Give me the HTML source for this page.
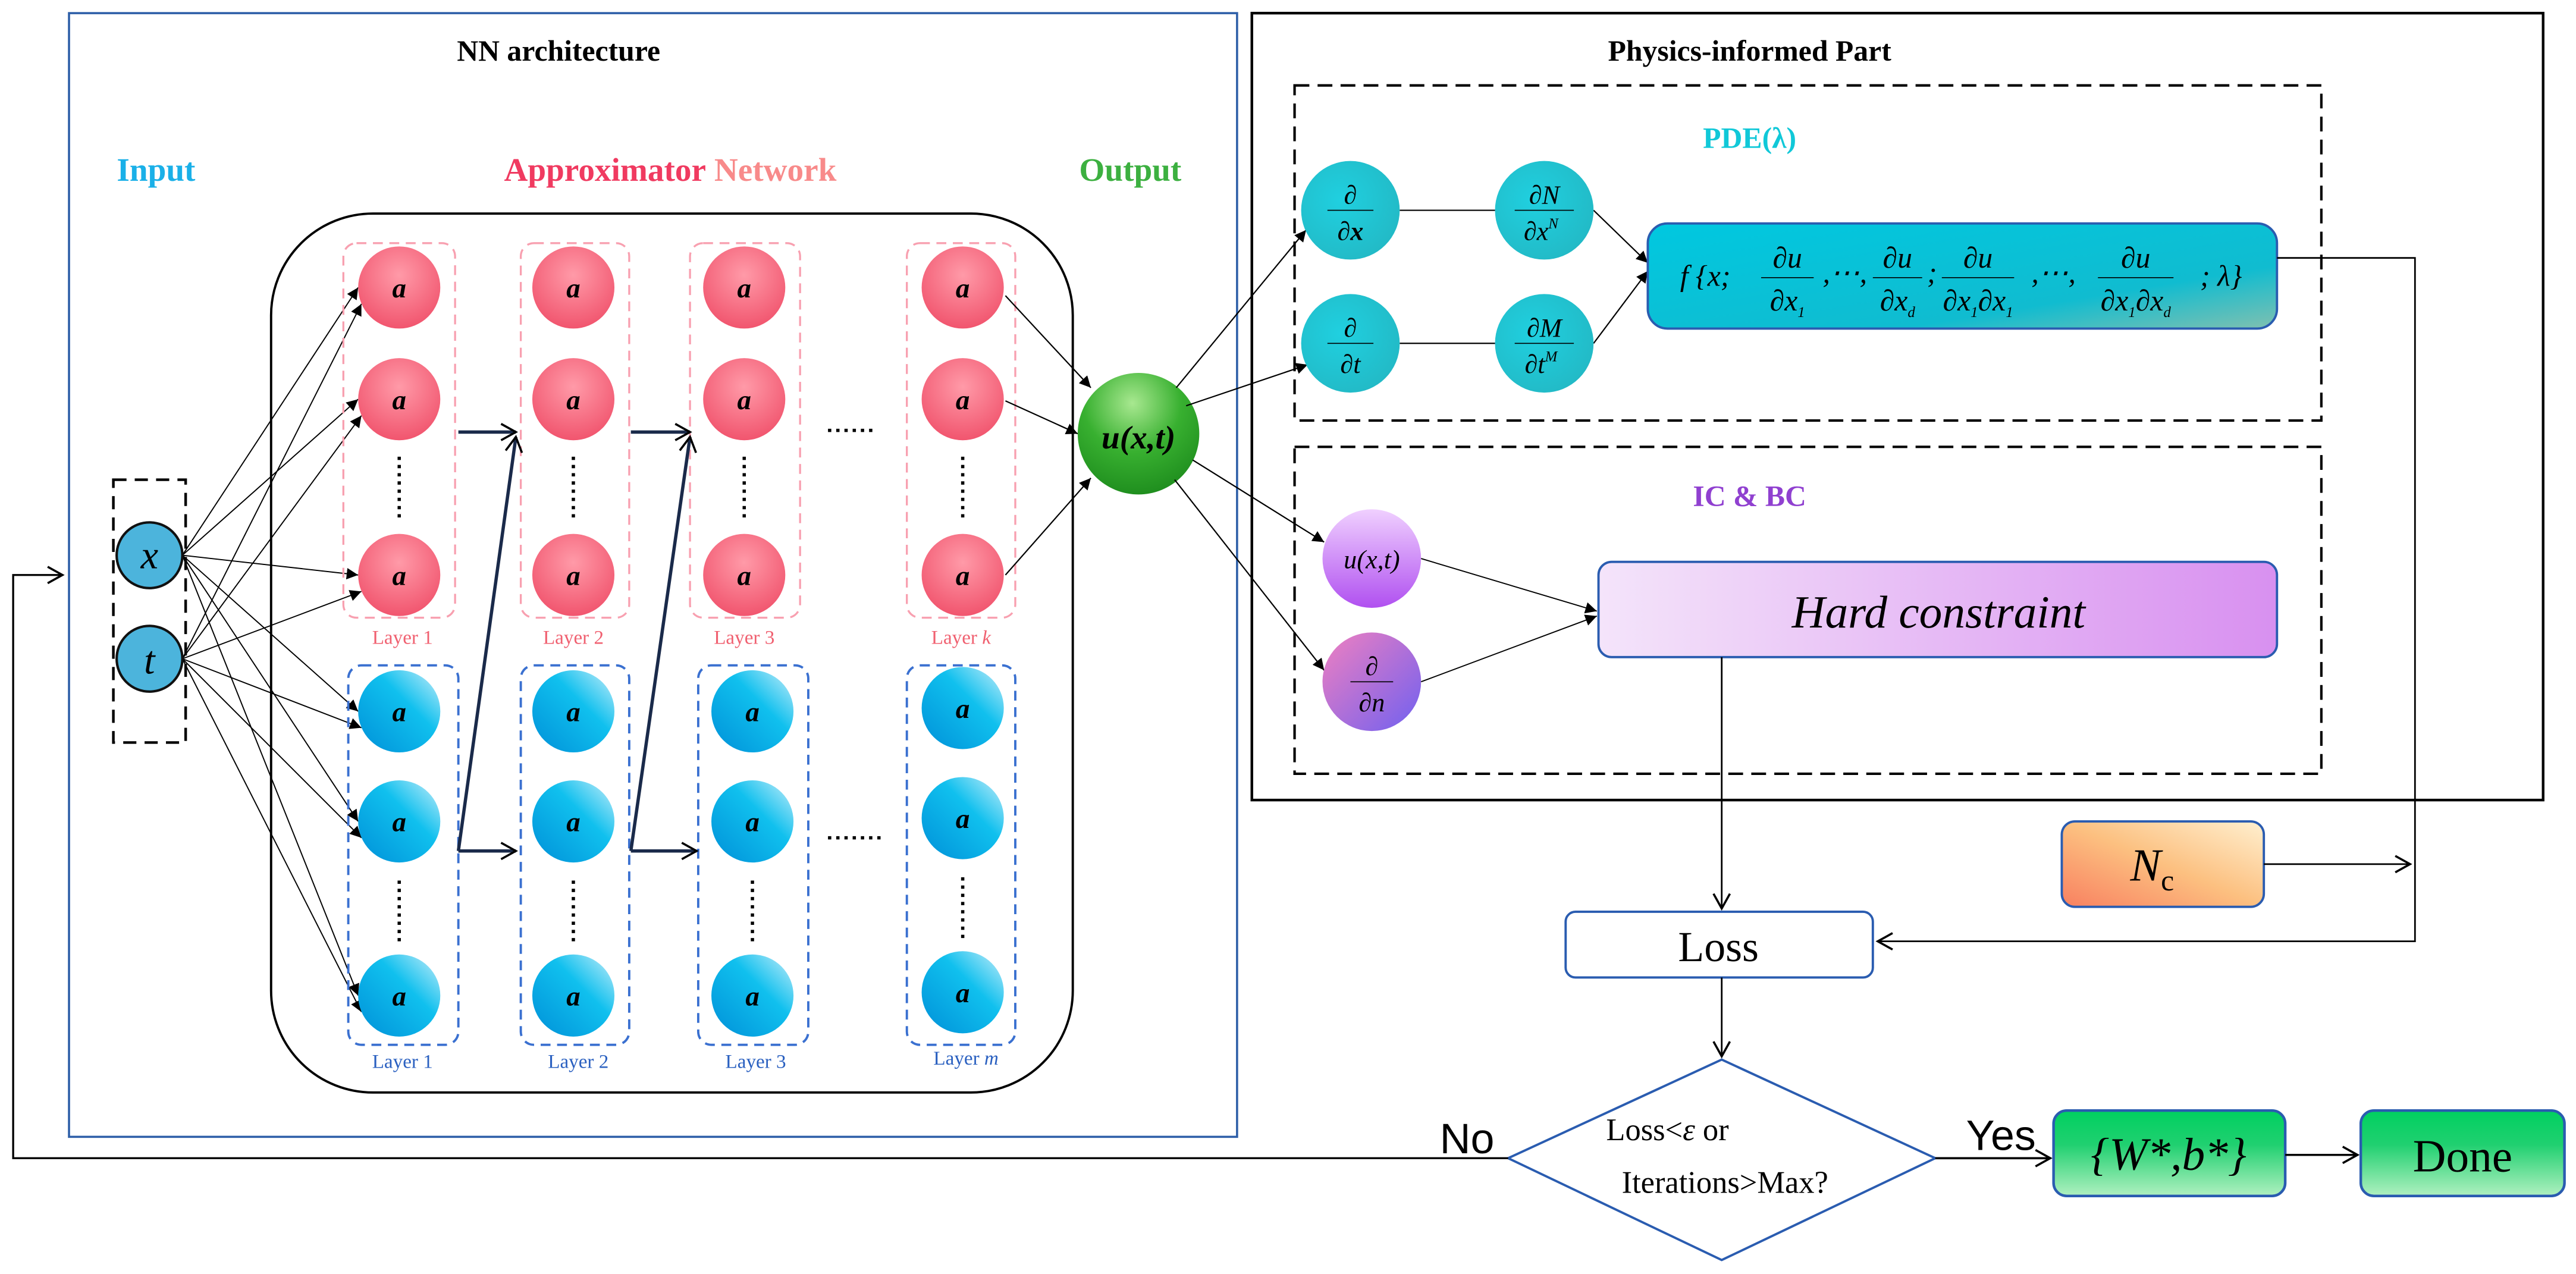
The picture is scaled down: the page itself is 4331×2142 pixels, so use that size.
<!DOCTYPE html>
<html><head><meta charset="utf-8"><style>html,body{margin:0;padding:0;background:#fff}svg{display:block}</style></head>
<body>
<svg width="4331" height="2142" viewBox="0 0 1568 775.5" xmlns="http://www.w3.org/2000/svg" font-family="'Liberation Serif',serif">
<defs>
<radialGradient id="pk" cx="0.5" cy="0.35" r="0.7"><stop offset="0" stop-color="#ff9aa8"/><stop offset="1" stop-color="#f0506a"/></radialGradient>
<linearGradient id="bl" x1="1" y1="0" x2="0" y2="1"><stop offset="0" stop-color="#c8eefa"/><stop offset="0.4" stop-color="#10c0ee"/><stop offset="1" stop-color="#0090d8"/></linearGradient>
<radialGradient id="tl" cx="0.4" cy="0.4" r="0.7"><stop offset="0" stop-color="#20d0e0"/><stop offset="1" stop-color="#22b8c4"/></radialGradient>
<radialGradient id="gr" cx="0.45" cy="0.25" r="0.8"><stop offset="0" stop-color="#a8e890"/><stop offset="0.5" stop-color="#38b030"/><stop offset="1" stop-color="#1c8a1c"/></radialGradient>
<linearGradient id="pu" x1="0" y1="0" x2="0" y2="1"><stop offset="0" stop-color="#f0d0ff"/><stop offset="1" stop-color="#b050f0"/></linearGradient>
<linearGradient id="pn" x1="0" y1="0" x2="1" y2="1"><stop offset="0" stop-color="#f080c0"/><stop offset="1" stop-color="#7060f0"/></linearGradient>
<linearGradient id="fb" x1="0" y1="0" x2="1" y2="1"><stop offset="0" stop-color="#00c8e0"/><stop offset="0.7" stop-color="#10bcd0"/><stop offset="1" stop-color="#80c0b0"/></linearGradient>
<linearGradient id="hc" x1="0" y1="0" x2="1" y2="0"><stop offset="0" stop-color="#f4e4fa"/><stop offset="1" stop-color="#d890f0"/></linearGradient>
<linearGradient id="nc" x1="1" y1="0" x2="0" y2="1"><stop offset="0" stop-color="#fff0d0"/><stop offset="0.5" stop-color="#fcc080"/><stop offset="1" stop-color="#f88060"/></linearGradient>
<linearGradient id="gn" x1="0" y1="0" x2="0" y2="1"><stop offset="0" stop-color="#00d060"/><stop offset="0.4" stop-color="#20d070"/><stop offset="1" stop-color="#b0f0c0"/></linearGradient>
<marker id="a" markerWidth="8" markerHeight="8" refX="7" refY="4" orient="auto" markerUnits="userSpaceOnUse"><path d="M0,0.5 L7,4 L0,7.5 Z" fill="#000"/></marker>
<marker id="o" markerWidth="12" markerHeight="12" refX="10" refY="6" orient="auto" markerUnits="userSpaceOnUse"><path d="M1,1 L10,6 L1,11" fill="none" stroke="#000" stroke-width="1.3"/></marker>
</defs>

<rect x="42" y="8" width="711" height="684" fill="none" stroke="#2e5fa8" stroke-width="1.3"/>
<rect x="762" y="8" width="786" height="479" fill="none" stroke="#000" stroke-width="1.6"/>
<rect x="788" y="52" width="625" height="204" fill="none" stroke="#000" stroke-width="1.5" stroke-dasharray="9,5"/>
<rect x="788" y="272" width="625" height="199" fill="none" stroke="#000" stroke-width="1.5" stroke-dasharray="9,5"/>

<text x="340" y="37" font-size="18" font-weight="bold" text-anchor="middle">NN architecture</text>
<text x="1065" y="37" font-size="18" font-weight="bold" text-anchor="middle">Physics-informed Part</text>
<text x="95" y="110" font-size="20" font-weight="bold" fill="#1ab0e8" text-anchor="middle">Input</text>
<text x="408" y="110" font-size="20" font-weight="bold" text-anchor="middle"><tspan fill="#f03a60">Approximator</tspan><tspan fill="#f88a8a"> Network</tspan></text>
<text x="688" y="110" font-size="20" font-weight="bold" fill="#3cb040" text-anchor="middle">Output</text>
<text x="1065" y="90" font-size="18" font-weight="bold" fill="#10c8d8" text-anchor="middle">PDE(λ)</text>
<text x="1065" y="308" font-size="18" font-weight="bold" fill="#9040d0" text-anchor="middle">IC &amp; BC</text>

<rect x="165" y="130" width="488" height="535" rx="62" fill="none" stroke="#000" stroke-width="1.4"/>

<rect x="69" y="292" width="44" height="160" fill="none" stroke="#000" stroke-width="1.6" stroke-dasharray="8,5"/>

<g stroke="#000" stroke-width="0.7" marker-end="url(#a)">
<line x1="111" y1="338" x2="218" y2="175"/><line x1="111" y1="338" x2="218" y2="243"/><line x1="111" y1="338" x2="218" y2="350"/>
<line x1="111" y1="338" x2="218" y2="433"/><line x1="111" y1="338" x2="218" y2="500"/><line x1="111" y1="338" x2="218" y2="606"/>
<line x1="111" y1="401" x2="220" y2="185"/><line x1="111" y1="401" x2="220" y2="253"/><line x1="111" y1="401" x2="220" y2="360"/>
<line x1="111" y1="401" x2="220" y2="443"/><line x1="111" y1="401" x2="220" y2="510"/><line x1="111" y1="401" x2="220" y2="616"/>
</g>
<circle cx="91" cy="338" r="20" fill="#4cb4dc" stroke="#111" stroke-width="1.5"/>
<text x="91" y="346" font-size="24" font-style="italic" text-anchor="middle">x</text>
<circle cx="91" cy="401" r="20" fill="#4cb4dc" stroke="#111" stroke-width="1.5"/>
<text x="91" y="410" font-size="24" font-style="italic" text-anchor="middle">t</text>

<g fill="none" stroke="#f8a0b0" stroke-width="1.2" stroke-dasharray="6,4">
<rect x="209" y="148" width="68" height="228" rx="8"/><rect x="317" y="148" width="66" height="228" rx="8"/>
<rect x="420" y="148" width="67" height="228" rx="8"/><rect x="552" y="148" width="66" height="228" rx="8"/>
</g>
<g fill="none" stroke="#3a70d0" stroke-width="1.4" stroke-dasharray="6,4">
<rect x="212" y="405" width="67" height="231" rx="8"/><rect x="317" y="405" width="66" height="231" rx="8"/>
<rect x="425" y="405" width="67" height="231" rx="8"/><rect x="552" y="405" width="66" height="231" rx="8"/>
</g>
<g fill="url(#pk)">
<circle cx="243" cy="175" r="25"/><circle cx="243" cy="243" r="25"/><circle cx="243" cy="350" r="25"/>
<circle cx="349" cy="175" r="25"/><circle cx="349" cy="243" r="25"/><circle cx="349" cy="350" r="25"/>
<circle cx="453" cy="175" r="25"/><circle cx="453" cy="243" r="25"/><circle cx="453" cy="350" r="25"/>
<circle cx="586" cy="175" r="25"/><circle cx="586" cy="243" r="25"/><circle cx="586" cy="350" r="25"/>
</g>
<g fill="url(#bl)">
<circle cx="243" cy="433" r="25"/><circle cx="243" cy="500" r="25"/><circle cx="243" cy="606" r="25"/>
<circle cx="349" cy="433" r="25"/><circle cx="349" cy="500" r="25"/><circle cx="349" cy="606" r="25"/>
<circle cx="458" cy="433" r="25"/><circle cx="458" cy="500" r="25"/><circle cx="458" cy="606" r="25"/>
<circle cx="586" cy="431" r="25"/><circle cx="586" cy="498" r="25"/><circle cx="586" cy="604" r="25"/>
</g>
<g font-size="17" font-weight="bold" font-style="italic" text-anchor="middle">
<text x="243" y="181">a</text><text x="243" y="249">a</text><text x="243" y="356">a</text>
<text x="349" y="181">a</text><text x="349" y="249">a</text><text x="349" y="356">a</text>
<text x="453" y="181">a</text><text x="453" y="249">a</text><text x="453" y="356">a</text>
<text x="586" y="181">a</text><text x="586" y="249">a</text><text x="586" y="356">a</text>
<text x="243" y="439">a</text><text x="243" y="506">a</text><text x="243" y="612">a</text>
<text x="349" y="439">a</text><text x="349" y="506">a</text><text x="349" y="612">a</text>
<text x="458" y="439">a</text><text x="458" y="506">a</text><text x="458" y="612">a</text>
<text x="586" y="437">a</text><text x="586" y="504">a</text><text x="586" y="610">a</text>
</g>
<g stroke="#000" stroke-width="2" stroke-dasharray="2,3">
<line x1="243" y1="278" x2="243" y2="318"/><line x1="349" y1="278" x2="349" y2="318"/><line x1="453" y1="278" x2="453" y2="318"/><line x1="586" y1="278" x2="586" y2="318"/>
<line x1="243" y1="536" x2="243" y2="576"/><line x1="349" y1="536" x2="349" y2="576"/><line x1="458" y1="536" x2="458" y2="576"/><line x1="586" y1="534" x2="586" y2="574"/>
<line x1="504" y1="262" x2="534" y2="262"/><line x1="504" y1="510" x2="536" y2="510"/>
</g>
<g font-size="12" text-anchor="middle" fill="#f06070">
<text x="245" y="392">Layer 1</text><text x="349" y="392">Layer 2</text><text x="453" y="392">Layer 3</text><text x="585" y="392">Layer <tspan font-style="italic">k</tspan></text>
</g>
<g font-size="12" text-anchor="middle" fill="#2a60c0">
<text x="245" y="650">Layer 1</text><text x="352" y="650">Layer 2</text><text x="460" y="650">Layer 3</text><text x="588" y="648">Layer <tspan font-style="italic">m</tspan></text>
</g>
<g stroke="#1a2a4a" stroke-width="2" fill="none">
<line x1="279" y1="263" x2="314" y2="263" marker-end="url(#o)"/>
<line x1="279" y1="518" x2="314" y2="266" marker-end="url(#o)"/>
<line x1="279" y1="518" x2="314" y2="518" marker-end="url(#o)"/>
<line x1="384" y1="263" x2="420" y2="263" marker-end="url(#o)"/>
<line x1="384" y1="518" x2="420" y2="266" marker-end="url(#o)"/>
<line x1="384" y1="518" x2="424" y2="518" marker-end="url(#o)"/>
</g>
<g stroke="#000" stroke-width="0.8" marker-end="url(#a)">
<line x1="612" y1="180" x2="664" y2="236"/><line x1="612" y1="244" x2="656" y2="264"/><line x1="612" y1="350" x2="664" y2="291"/>
</g>
<circle cx="693" cy="264" r="37" fill="url(#gr)"/>
<text x="693" y="273" font-size="20" font-weight="bold" font-style="italic" text-anchor="middle">u(x,t)</text>
<g stroke="#000" stroke-width="0.8" marker-end="url(#a)">
<line x1="716" y1="236" x2="795" y2="140"/><line x1="722" y1="247" x2="796" y2="222"/>
<line x1="726" y1="280" x2="806" y2="330"/><line x1="715" y1="292" x2="806" y2="408"/>
</g>

<g stroke="#000" stroke-width="0.8" fill="none">
<line x1="852" y1="128" x2="910" y2="128"/><line x1="852" y1="209" x2="910" y2="209"/>
<line x1="970" y1="128" x2="1003" y2="160" marker-end="url(#a)"/><line x1="970" y1="209" x2="1003" y2="165" marker-end="url(#a)"/>
</g>
<g fill="url(#tl)">
<circle cx="822" cy="128" r="30"/><circle cx="822" cy="209" r="30"/><circle cx="940" cy="128" r="30"/><circle cx="940" cy="209" r="30"/>
</g>
<g font-style="italic" text-anchor="middle" font-size="16">
<text x="822" y="124">∂</text><line x1="808" y1="128" x2="836" y2="128" stroke="#000" stroke-width="0.6"/><text x="822" y="146" font-weight="bold">∂x</text>
<text x="822" y="205">∂</text><line x1="808" y1="209" x2="836" y2="209" stroke="#000" stroke-width="0.6"/><text x="822" y="227">∂t</text>
<text x="940" y="124">∂N</text><line x1="922" y1="128" x2="958" y2="128" stroke="#000" stroke-width="0.6"/><text x="938" y="146">∂x<tspan font-size="9" dy="-7">N</tspan></text>
<text x="940" y="205">∂M</text><line x1="922" y1="209" x2="958" y2="209" stroke="#000" stroke-width="0.6"/><text x="938" y="227">∂t<tspan font-size="9" dy="-7">M</tspan></text>
</g>
<rect x="1003" y="136" width="383" height="64" rx="12" fill="url(#fb)" stroke="#2a5cb0" stroke-width="1.4"/>
<g font-style="italic" font-size="18" text-anchor="middle">
<text x="1038" y="174">f {x;</text>
<text x="1088" y="163">∂u</text><line x1="1072" y1="169" x2="1104" y2="169" stroke="#000" stroke-width="0.6"/><text x="1088" y="189">∂x<tspan font-size="9" dy="4">1</tspan></text>
<text x="1123" y="172">,⋯,</text>
<text x="1155" y="163">∂u</text><line x1="1140" y1="169" x2="1170" y2="169" stroke="#000" stroke-width="0.6"/><text x="1155" y="189">∂x<tspan font-size="9" dy="4">d</tspan></text>
<text x="1176" y="172">;</text>
<text x="1204" y="163">∂u</text><line x1="1182" y1="169" x2="1226" y2="169" stroke="#000" stroke-width="0.6"/><text x="1204" y="189">∂x<tspan font-size="9" dy="4">1</tspan><tspan dy="-4">∂x</tspan><tspan font-size="9" dy="4">1</tspan></text>
<text x="1250" y="172">,⋯,</text>
<text x="1300" y="163">∂u</text><line x1="1277" y1="169" x2="1323" y2="169" stroke="#000" stroke-width="0.6"/><text x="1300" y="189">∂x<tspan font-size="9" dy="4">1</tspan><tspan dy="-4">∂x</tspan><tspan font-size="9" dy="4">d</tspan></text>
<text x="1352" y="174">; λ}</text>
</g>
<polyline points="1386,157 1470,157 1470,573 1143,573" fill="none" stroke="#000" stroke-width="1" marker-end="url(#o)"/>

<g stroke="#000" stroke-width="0.7" fill="none">
<line x1="865" y1="340" x2="972" y2="372" marker-end="url(#a)"/><line x1="865" y1="415" x2="972" y2="375" marker-end="url(#a)"/>
</g>
<circle cx="835" cy="340" r="30" fill="url(#pu)"/>
<text x="835" y="346" font-size="16" font-style="italic" text-anchor="middle">u(x,t)</text>
<circle cx="835" cy="415" r="30" fill="url(#pn)"/>
<g font-style="italic" text-anchor="middle" font-size="16"><text x="835" y="411">∂</text><line x1="822" y1="415" x2="848" y2="415" stroke="#000" stroke-width="0.6"/><text x="835" y="433">∂n</text></g>
<rect x="973" y="342" width="413" height="58" rx="8" fill="url(#hc)" stroke="#2a5cb0" stroke-width="1.4"/>
<text x="1180" y="382" font-size="28" font-style="italic" text-anchor="middle">Hard constraint</text>

<line x1="1048" y1="400" x2="1048" y2="553" stroke="#000" stroke-width="1" marker-end="url(#o)"/>
<rect x="953" y="555" width="187" height="40" rx="6" fill="#fff" stroke="#2a5cb0" stroke-width="1.4"/>
<text x="1046" y="585" font-size="26" text-anchor="middle">Loss</text>
<rect x="1255" y="500" width="123" height="52" rx="8" fill="url(#nc)" stroke="#2a5cb0" stroke-width="1.4"/>
<text x="1310" y="536" font-size="28" font-style="italic" text-anchor="middle">N<tspan font-size="18" font-style="normal" dy="6">c</tspan></text>
<line x1="1378" y1="526" x2="1467" y2="526" stroke="#000" stroke-width="1" marker-end="url(#o)"/>
<line x1="1048" y1="595" x2="1048" y2="643" stroke="#000" stroke-width="1" marker-end="url(#o)"/>
<polygon points="1048,645 1178,705 1048,767 918,705" fill="#fff" stroke="#2a5cb0" stroke-width="1.4"/>
<text x="1015" y="694" font-size="19" text-anchor="middle">Loss&lt;<tspan font-style="italic">ε</tspan> or</text>
<text x="1050" y="726" font-size="19" text-anchor="middle">Iterations&gt;Max?</text>
<polyline points="918,705 8,705 8,350 38,350" fill="none" stroke="#000" stroke-width="1.2" marker-end="url(#o)"/>
<text x="893" y="702" font-size="26" font-family="'Liberation Sans',sans-serif" text-anchor="middle">No</text>
<text x="1218" y="700" font-size="26" font-family="'Liberation Sans',sans-serif" text-anchor="middle">Yes</text>
<line x1="1178" y1="705" x2="1248" y2="705" stroke="#000" stroke-width="1.3" marker-end="url(#o)"/>
<rect x="1250" y="676" width="141" height="52" rx="8" fill="url(#gn)" stroke="#2a5cb0" stroke-width="1.6"/>
<text x="1320" y="712" font-size="28" font-style="italic" text-anchor="middle">{W*,b*}</text>
<line x1="1391" y1="703" x2="1435" y2="703" stroke="#000" stroke-width="1.3" marker-end="url(#o)"/>
<rect x="1437" y="676" width="124" height="52" rx="8" fill="url(#gn)" stroke="#2a5cb0" stroke-width="1.6"/>
<text x="1499" y="713" font-size="28" text-anchor="middle">Done</text>
</svg>
</body></html>
